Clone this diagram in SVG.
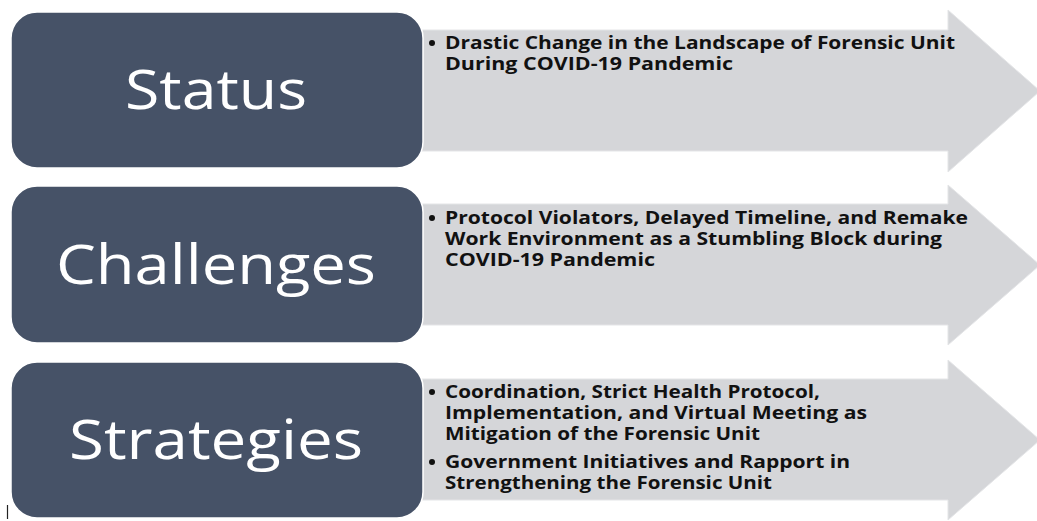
<svg xmlns="http://www.w3.org/2000/svg" width="1037" height="521" viewBox="0 0 1037 521">
<style>
.box{fill:#465267;stroke:#ffffff;stroke-width:1.5}
.arrow{fill:#d5d6d9;stroke:#e4e5e7;stroke-width:1}
.lbl{font-family:"Open Sans","Liberation Sans",sans-serif;font-size:55px;fill:#ffffff;text-anchor:middle}
.bt{font-family:"Open Sans","Liberation Sans",sans-serif;font-size:17px;font-weight:bold;fill:#111111}
.dot{fill:#111111}
</style>
<rect width="1037" height="521" fill="#ffffff"/>
<g id="connectors"/>
<g id="status-detail">
<path class="arrow" d="M419,30 H948 V10 L1040,91 L948,172 V151 H419 Z"/>
<circle class="dot" cx="432" cy="43" r="3"/>
<text class="bt" x="445" y="49" textLength="510" lengthAdjust="spacingAndGlyphs">Drastic Change in the Landscape of Forensic Unit</text>
<text class="bt" x="445" y="70" textLength="288" lengthAdjust="spacingAndGlyphs">During COVID-19 Pandemic</text>
</g>
<g id="status">
<rect class="box" x="11" y="12" width="412" height="156" rx="26"/>
<text class="lbl" x="216" y="109" textLength="182" lengthAdjust="spacingAndGlyphs">Status</text>
</g>
<g id="challenges-detail">
<path class="arrow" d="M419,204 H948 V185 L1040,265 L948,345 V325 H419 Z"/>
<circle class="dot" cx="432" cy="218" r="3"/>
<text class="bt" x="445" y="224" textLength="523" lengthAdjust="spacingAndGlyphs">Protocol Violators, Delayed Timeline, and Remake</text>
<text class="bt" x="445" y="245" textLength="497" lengthAdjust="spacingAndGlyphs">Work Environment as a Stumbling Block during</text>
<text class="bt" x="445" y="266" textLength="210" lengthAdjust="spacingAndGlyphs">COVID-19 Pandemic</text>
</g>
<g id="challenges">
<rect class="box" x="11" y="186" width="412" height="157" rx="26"/>
<text class="lbl" x="216" y="284" textLength="320" lengthAdjust="spacingAndGlyphs">Challenges</text>
</g>
<g id="strategies-detail">
<path class="arrow" d="M419,379 H948 V360 L1040,440 L948,520 V500 H419 Z"/>
<circle class="dot" cx="432" cy="392" r="3"/>
<text class="bt" x="445" y="398" textLength="375" lengthAdjust="spacingAndGlyphs">Coordination, Strict Health Protocol,</text>
<text class="bt" x="445" y="419" textLength="422" lengthAdjust="spacingAndGlyphs">Implementation, and Virtual Meeting as</text>
<text class="bt" x="445" y="440" textLength="315" lengthAdjust="spacingAndGlyphs">Mitigation of the Forensic Unit</text>
<circle class="dot" cx="432" cy="462" r="3"/>
<text class="bt" x="445" y="468" textLength="405" lengthAdjust="spacingAndGlyphs">Government Initiatives and Rapport in</text>
<text class="bt" x="445" y="489" textLength="327" lengthAdjust="spacingAndGlyphs">Strengthening the Forensic Unit</text>
</g>
<g id="strategies">
<rect class="box" x="11" y="362" width="412" height="156" rx="26"/>
<text class="lbl" x="216" y="459" textLength="294" lengthAdjust="spacingAndGlyphs">Strategies</text>
</g>
<line x1="7.5" y1="505" x2="7.5" y2="519" stroke="#222222" stroke-width="1.2"/>
</svg>
